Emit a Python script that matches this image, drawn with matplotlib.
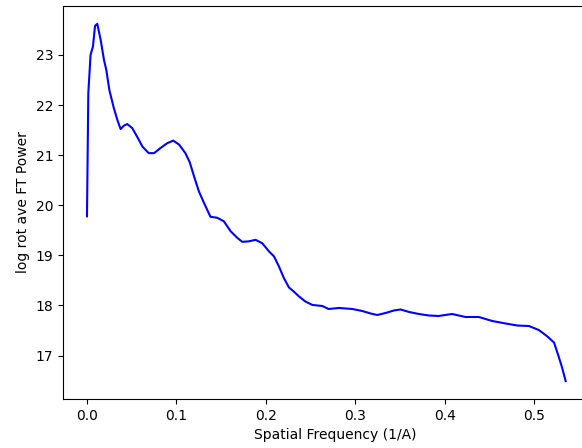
import numpy as np
import matplotlib
matplotlib.use('Agg')
import matplotlib.pyplot as plt

# spatial frequency (1/A) and log rotational average FT power
freq = [0.0, 0.0015, 0.004, 0.0067, 0.009, 0.0115, 0.0153, 0.019, 0.0216, 0.025,
        0.030, 0.034, 0.0376, 0.0413, 0.045, 0.0506, 0.056, 0.062, 0.069, 0.075,
        0.082, 0.0898, 0.0965, 0.103, 0.110, 0.1148, 0.1196, 0.125, 0.1307, 0.138,
        0.1456, 0.153, 0.1606, 0.168, 0.1735, 0.181, 0.1885, 0.196, 0.2034, 0.209,
        0.2145, 0.220, 0.2257, 0.231, 0.237, 0.244, 0.252, 0.263, 0.270, 0.2816,
        0.2964, 0.3076, 0.317, 0.3244, 0.3337, 0.343, 0.3505, 0.360, 0.371, 0.382,
        0.393, 0.408, 0.423, 0.438, 0.453, 0.468, 0.481, 0.494, 0.505, 0.514,
        0.522, 0.527, 0.531, 0.535]
power = [19.78, 22.24, 23.0, 23.17, 23.58, 23.62, 23.3, 22.9, 22.7, 22.3,
         21.94, 21.7, 21.52, 21.59, 21.62, 21.54, 21.37, 21.17, 21.04, 21.04,
         21.14, 21.24, 21.29, 21.21, 21.04, 20.86, 20.58, 20.28, 20.05, 19.77,
         19.75, 19.68, 19.48, 19.35, 19.27, 19.28, 19.31, 19.24, 19.08, 18.98,
         18.78, 18.55, 18.36, 18.28, 18.18, 18.08, 18.01, 17.99, 17.93, 17.95,
         17.93, 17.89, 17.84, 17.81, 17.85, 17.90, 17.92, 17.87, 17.83, 17.80,
         17.79, 17.83, 17.77, 17.77, 17.69, 17.64, 17.60, 17.59, 17.51, 17.39,
         17.26, 16.99, 16.76, 16.49]

fig = plt.figure(figsize=(5.82, 4.48), dpi=100)
# the reference is cropped: the right spine sits just past the image edge
ax = fig.add_axes([63 / 582, 49 / 448, 545 / 582, 393 / 448])
ax.plot(freq, power, color='b')
ax.set_xlim(-0.0268, 0.5823)
ax.spines['right'].set_visible(False)
ax.set_xlabel('Spatial Frequency (1/A)')
ax.set_ylabel('log rot ave FT Power')

fig.savefig('out.png', dpi=100)
